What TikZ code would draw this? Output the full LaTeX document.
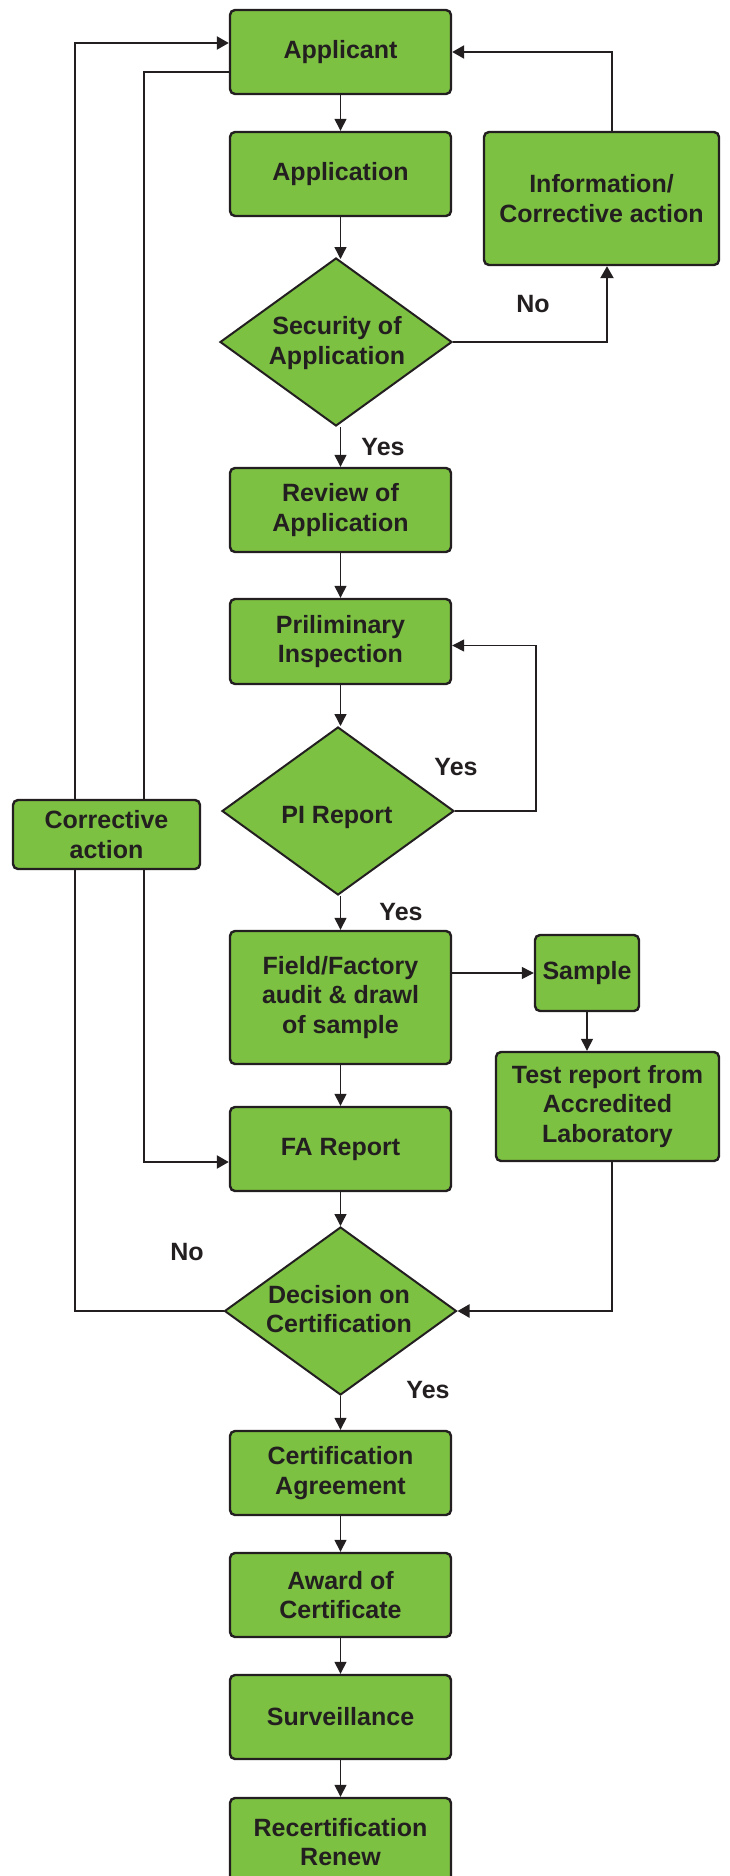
\documentclass[tikz,border=0pt]{standalone}
\usepackage{fontspec}
\setmainfont{Liberation Sans}
\usetikzlibrary{arrows.meta,shapes.geometric}
\definecolor{boxgreen}{RGB}{125,193,66}
\definecolor{ink}{RGB}{35,31,32}
\begin{document}
\begin{tikzpicture}[x=1pt,y=-1pt,
  lbl/.style={font=\bfseries\fontsize{25}{29.5}\selectfont, text=ink, align=center, inner sep=0pt},
  box/.style={lbl, draw=ink, line width=2.4pt, fill=boxgreen, rounded corners=5pt},
  dia/.style={draw=ink, line width=2pt, fill=boxgreen, diamond, inner sep=0pt, minimum width=232pt, minimum height=168pt},
  arr/.style={draw=ink, line width=1.3pt, -{Triangle[length=12pt,width=12pt]}},
  thickarr/.style={draw=ink, line width=2.2pt, -{Triangle[length=12pt,width=13pt]}},
  thickline/.style={draw=ink, line width=2.2pt}
]
\useasboundingbox (0,0) rectangle (729,1876);

% main column
\node[box, minimum width=221pt, minimum height=84pt] (app) at (340.5,52) {Applicant};
\node[box, minimum width=221pt, minimum height=84pt] (appl) at (340.5,174) {Application};
\node[dia] (sec) at (336,342) {};
\node[lbl] (secT) at (337,343) {Security of\\Application};
\node[box, minimum width=235pt, minimum height=133pt] (info) at (601.5,198.5) {Information/\\Corrective action};
\node[box, minimum width=221pt, minimum height=84pt] (rev) at (340.5,510) {Review of\\Application};
\node[box, minimum width=221pt, minimum height=85pt] (pi) at (340.5,641.5) {Priliminary\\Inspection};
\node[dia] (pir) at (338,811) {};
\node[lbl] (pirT) at (337,817) {PI Report};
\node[box, minimum width=221pt, minimum height=133pt] (field) at (340.5,997.5) {Field/Factory\\audit \& drawl\\of sample};
\node[box, minimum width=104pt, minimum height=76pt] (samp) at (587,973) {Sample};
\node[box, minimum width=223pt, minimum height=109pt] (test) at (607.5,1106.5) {Test report from\\Accredited\\Laboratory};
\node[box, minimum width=221pt, minimum height=84pt] (fa) at (340.5,1149) {FA Report};
\node[dia] (dec) at (340.5,1311) {};
\node[lbl] (decT) at (339,1309) {Decision on\\Certification};
\node[box, minimum width=221pt, minimum height=84pt] (cert) at (340.5,1473) {Certification\\Agreement};
\node[box, minimum width=221pt, minimum height=84pt] (award) at (340.5,1595) {Award of\\Certificate};
\node[box, minimum width=221pt, minimum height=84pt] (surv) at (340.5,1717) {Surveillance};
\node[box, minimum width=221pt, minimum height=88pt] (recert) at (340.5,1842) {Recertification\\Renew};

% helper coordinates
\coordinate (xr) at (612,0);
\coordinate (xs) at (607,0);
\coordinate (xp) at (536,0);
\coordinate (xa) at (75,0);
\coordinate (xb) at (144,0);
\coordinate (appin) at ([yshift=9pt]app.west);
\coordinate (appout) at ([yshift=-20pt]app.west);
\coordinate (fain) at ([yshift=-13pt]fa.west);
\coordinate (piin) at ([yshift=-4pt]pi.east);

% connectors main column
\draw[arr] (app) -- (appl);
\draw[arr] (appl.south) -- ([yshift=-2pt]appl.south |- sec.north);
\draw[arr] (sec.south -| rev.north) -- (rev.north);
\draw[arr] (rev) -- (pi);
\draw[arr] (pi.south) -- (pi.south |- pir.north);
\draw[arr] (pir.south -| field.north) -- (field.north);
\draw[arr] (field) -- (fa);
\draw[arr] (fa.south) -- (fa.south |- dec.north);
\draw[arr] (dec.south -| cert.north) -- (cert.north);
\draw[arr] (cert) -- (award);
\draw[arr] (award) -- (surv);
\draw[arr] (surv) -- (recert);

% side loops
\draw[thickarr] (sec.east) -| (xs |- info.south);
\draw[thickarr] (xr |- info.north) |- (app.east);
\draw[arr] (pir.east) -| (xp |- piin) -- (piin);
\draw[arr] (field.east |- samp.west) -- (samp.west);
\draw[arr] (samp.south) -- (samp.south |- test.north);
\draw[thickarr] (xr |- test.south) |- (dec.east);
\draw[thickarr] (dec.west) -| (xa |- appin) -- (appin);
\draw[thickarr] (appout) -| (xb |- fain) -- (fain);

% corrective action box on top of the lines
\node[box, minimum width=187pt, minimum height=69pt] (corr) at (106.5,834.5) {Corrective\\action};

% labels
\node[lbl] (no1) at (533,304) {No};
\node[lbl] (yes1) at (383,447) {Yes};
\node[lbl] (yes2) at (456,767) {Yes};
\node[lbl] (yes3) at (401,912) {Yes};
\node[lbl] (no2) at (187,1252) {No};
\node[lbl] (yes4) at (428,1390) {Yes};
\end{tikzpicture}
\end{document}
